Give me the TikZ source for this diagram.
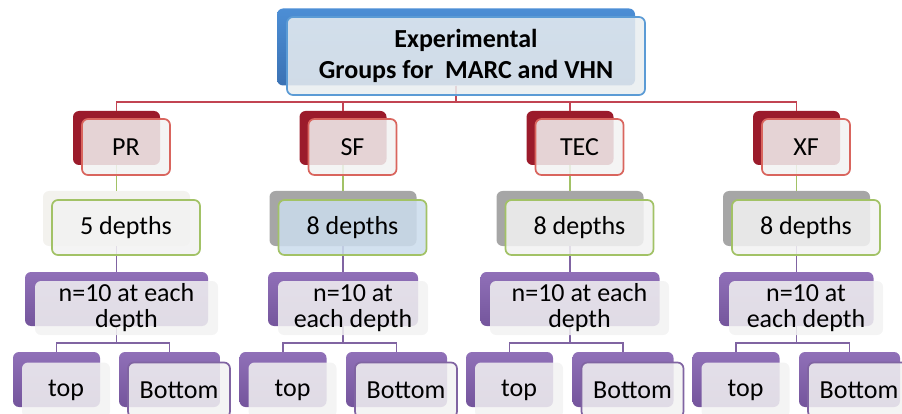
\documentclass[tikz,border=0pt]{standalone}
\usepackage{fontspec}
\setmainfont{Carlito}
\definecolor{orgBlue}{HTML}{4C8ED5}
\definecolor{orgBlueDark}{HTML}{3B72B4}
\definecolor{orgBlueLine}{HTML}{5B9BD5}
\definecolor{orgRed}{HTML}{9B1B2B}
\definecolor{orgRedLine}{HTML}{D9655E}
\definecolor{orgWire}{HTML}{C24452}
\definecolor{orgGreen}{HTML}{A2C266}
\definecolor{orgGrey}{HTML}{A6A6A6}
\definecolor{orgPale}{HTML}{F3F2EE}
\definecolor{orgSky}{HTML}{CBDCEC}
\definecolor{orgPurple}{HTML}{9070B8}
\definecolor{orgPurpleDark}{HTML}{74559C}
\definecolor{orgPurpleLine}{HTML}{8064A2}
\definecolor{orgFace}{HTML}{F2F2F2}
\tikzset{
    every picture/.style={font=\fontsize{26}{26}\selectfont},
    back/.style={rounded corners=6pt, inner sep=0pt},
    face/.style={rounded corners=6pt, inner sep=0pt, align=center, fill=orgFace, fill opacity=0.86, text opacity=1, line width=1.7pt, text=black},
    titleback/.style={back, top color=orgBlue, bottom color=orgBlueDark, minimum width=358pt, minimum height=77pt},
    titleface/.style={face, draw=orgBlueLine, fill=orgBlueLine!6!orgFace, minimum width=358pt, minimum height=78pt, font=\fontsize{26}{31}\selectfont\bfseries},
    groupback/.style={back, fill=orgRed, minimum width=87pt, minimum height=54pt},
    groupface/.style={face, draw=orgRedLine, minimum width=88pt, minimum height=56pt},
    depthback/.style={back, fill=orgGrey, minimum width=147pt, minimum height=55pt},
    depthface/.style={face, draw=orgGreen, minimum width=148pt, minimum height=55pt},
    countback/.style={back, top color=orgPurple, bottom color=orgPurpleDark, minimum height=54pt},
    countface/.style={face, minimum height=54pt},
    sideback/.style={back, top color=orgPurple, bottom color=orgPurpleDark, minimum height=55pt},
    sideface/.style={face, minimum height=55pt},
    redwire/.style={draw=orgWire, line width=1.7pt},
    greenwire/.style={draw=orgGreen, line width=1.7pt},
    purplewire/.style={draw=orgPurpleLine, line width=1.7pt}
}
\begin{document}
\begin{tikzpicture}[x=1pt, y=-1pt]
\useasboundingbox (0,0) rectangle (902,414);
\clip (0,0) rectangle (902,414);
% back plates
\node[titleback] (title) at (456,47) {};
\node[groupback] (pr) at (116.5,138) {};
\node[groupback] (sf) at (343,138) {};
\node[groupback] (tec) at (570,138) {};
\node[groupback] (xf) at (796.5,138) {};
\node[depthback, fill=orgPale] (d1) at (116.5,218.5) {};
\node[depthback] (d2) at (343,218.5) {};
\node[depthback] (d3) at (570,218.5) {};
\node[depthback] (d4) at (796.5,218.5) {};
\node[countback, minimum width=183pt] (n1) at (116.5,299) {};
\node[countback, minimum width=150pt] (n2) at (343,299) {};
\node[countback, minimum width=179pt] (n3) at (570,299) {};
\node[countback, minimum width=154pt] (n4) at (796.5,299) {};
\node[sideback, minimum width=87pt] (top1) at (56.5,379.5) {};
\node[sideback, minimum width=101pt] (bot1) at (169.5,379.5) {};
\node[sideback, minimum width=87pt] (top2) at (283,379.5) {};
\node[sideback, minimum width=101pt] (bot2) at (396.5,379.5) {};
\node[sideback, minimum width=87pt] (top3) at (509.5,379.5) {};
\node[sideback, minimum width=101pt] (bot3) at (623,379.5) {};
\node[sideback, minimum width=87pt] (top4) at (736,379.5) {};
\node[sideback, minimum width=101pt] (bot4) at (849.5,379.5) {};
% connectors
\draw[redwire] (title.south) -- ++(0,16) -| (pr.north);
\draw[redwire] (title.south) -- ++(0,16) -| (sf.north);
\draw[redwire] (title.south) -- ++(0,16) -| (tec.north);
\draw[redwire] (title.south) -- ++(0,16) -| (xf.north);
\draw[greenwire] (pr) -- (d1); \draw[greenwire] (sf) -- (d2); \draw[greenwire] (tec) -- (d3); \draw[greenwire] (xf) -- (d4);
\draw[purplewire] (d1) -- (n1); \draw[purplewire] (d2) -- (n2); \draw[purplewire] (d3) -- (n3); \draw[purplewire] (d4) -- (n4);
\draw[purplewire] (n1.south) -- ++(0,17) -| (top1.north); \draw[purplewire] (n1.south) -- ++(0,17) -| (bot1.north);
\draw[purplewire] (n2.south) -- ++(0,17) -| (top2.north); \draw[purplewire] (n2.south) -- ++(0,17) -| (bot2.north);
\draw[purplewire] (n3.south) -- ++(0,17) -| (top3.north); \draw[purplewire] (n3.south) -- ++(0,17) -| (bot3.north);
\draw[purplewire] (n4.south) -- ++(0,17) -| (top4.north); \draw[purplewire] (n4.south) -- ++(0,17) -| (bot4.north);
% faces
\node[titleface] (titleF) at (466,56) {Experimental\\Groups for~~MARC and VHN};
\node[groupface] (prF) at (126,147) {PR};
\node[groupface] (sfF) at (352.5,147) {SF};
\node[groupface] (tecF) at (579.5,147) {TEC};
\node[groupface] (xfF) at (806,147) {XF};
\node[depthface] (d1F) at (126,227.5) {5 depths};
\node[depthface, fill=orgSky] (d2F) at (352.5,227.5) {8 depths};
\node[depthface] (d3F) at (579.5,227.5) {8 depths};
\node[depthface] (d4F) at (806,227.5) {8 depths};
\node[countface, minimum width=183pt] (n1F) at (126.5,308) {n=10 at each\\depth};
\node[countface, minimum width=150pt] (n2F) at (353,308) {n=10 at\\each depth};
\node[countface, minimum width=179pt] (n3F) at (579.5,308) {n=10 at each\\depth};
\node[countface, minimum width=154pt] (n4F) at (806,308) {n=10 at\\each depth};
\node[sideface, minimum width=88pt] (top1F) at (66,390) {top};
\node[sideface, draw=orgPurpleLine, minimum width=102pt] (bot1F) at (179,390) {Bottom};
\node[sideface, minimum width=88pt] (top2F) at (292.5,390) {top};
\node[sideface, draw=orgPurpleLine, minimum width=102pt] (bot2F) at (406,390) {Bottom};
\node[sideface, minimum width=88pt] (top3F) at (519,390) {top};
\node[sideface, draw=orgPurpleLine, minimum width=102pt] (bot3F) at (632.5,390) {Bottom};
\node[sideface, minimum width=88pt] (top4F) at (745.5,390) {top};
\node[sideface, draw=orgPurpleLine, minimum width=102pt] (bot4F) at (859,390) {Bottom};
\end{tikzpicture}
\end{document}
